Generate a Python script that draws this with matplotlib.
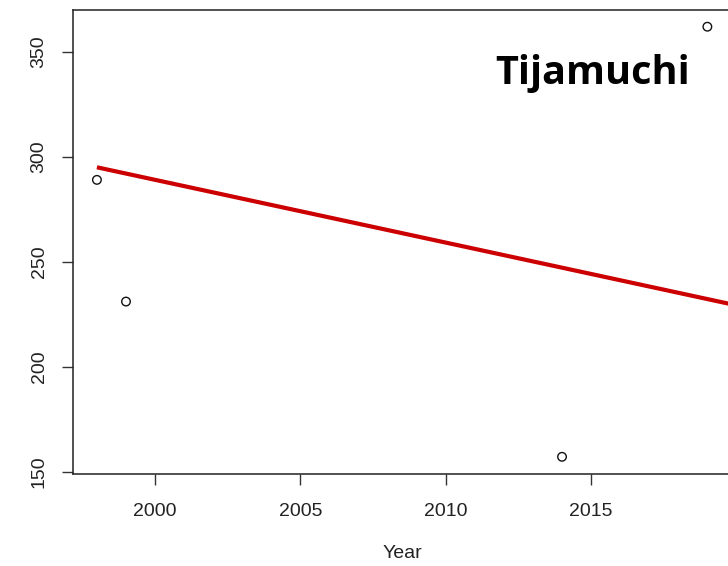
import matplotlib
matplotlib.use("Agg")
import matplotlib.pyplot as plt

# observed counts by year
years = [1998, 1999, 2014, 2019]
counts = [289, 231, 157, 362]

# fitted trend line
trend_years = [1998, 2020]
trend_vals = [295, 229.2]

xticks = [2000, 2005, 2010, 2015]
yticks = [150, 200, 250, 300, 350]

plt.rcParams['font.family'] = ['Liberation Sans', 'DejaVu Sans']

fig = plt.figure(figsize=(7.28, 5.66), dpi=100)
ax = fig.add_axes([0.0996, 0.1625, 0.9056, 0.8207])

ax.plot(trend_years, trend_vals, color='#cc0000', lw=3.0, solid_capstyle='butt', zorder=2)
ax.scatter(years, counts, s=38, facecolors='none', edgecolors='#111111', linewidths=1.0, zorder=3)

ax.set_xlim(1997.16, 2019.84)
ax.set_ylim(148.8, 370.2)
ax.set_xticks(xticks)
ax.set_yticks(yticks)
ax.set_xticklabels([str(t) for t in xticks])
ax.set_yticklabels([str(t) for t in yticks], rotation=90, va='center')
ax.tick_params(axis='both', length=8, width=1, color='#333333',
               labelsize=14, labelcolor='#222222')
ax.tick_params(axis='x', pad=13)
ax.tick_params(axis='y', pad=10)
for s in ax.spines.values():
    s.set_color('#222222')
    s.set_linewidth(1.1)

ax.set_xlabel('Year', fontsize=14, color='#222222', labelpad=18)

ax.text(593, 566 - 84, 'Tijamuchi', transform=None, fontsize=28.5, fontweight='bold',
        family=['Open Sans', 'DejaVu Sans'], ha='center', va='baseline', color='black')

fig.savefig('out.png', dpi=100)
